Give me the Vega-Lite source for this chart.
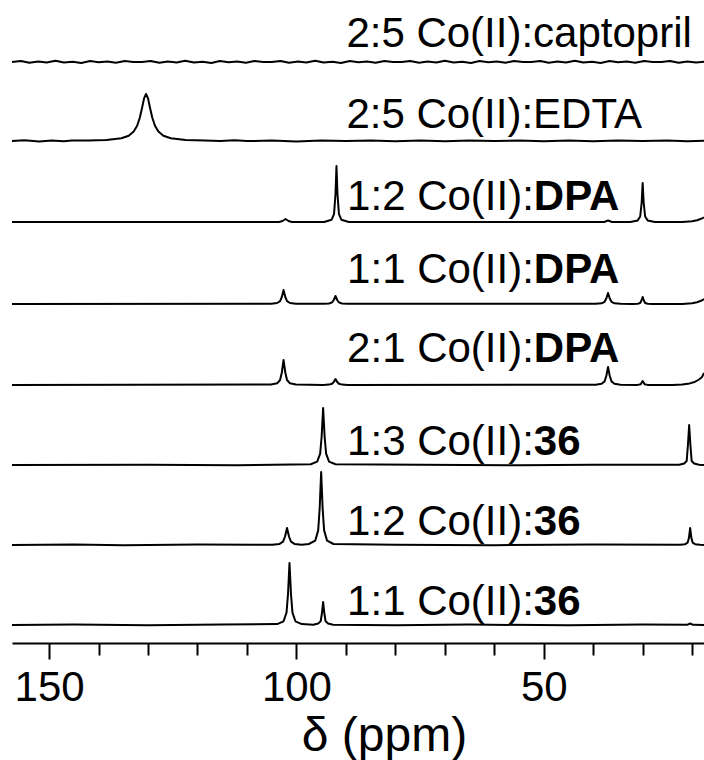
{
  "$schema": "https://vega.github.io/schema/vega-lite/v6.json",
  "width": 692,
  "height": 643,
  "autosize": {"type": "none"},
  "padding": {"left": 12, "top": 0, "right": 0, "bottom": 117},
  "background": "white",
  "config": {"view": {"stroke": null}},
  "datasets": {
    "spectra": [
      {"s": "cap", "ppm": 157.5, "i": 581}, {"s": "cap", "ppm": 155.7, "i": 582.1}, {"s": "cap", "ppm": 154, "i": 580.2}, {"s": "cap", "ppm": 152.2, "i": 581.5}, {"s": "cap", "ppm": 150.5, "i": 580.6}, {"s": "cap", "ppm": 148.7, "i": 582.3}, {"s": "cap", "ppm": 147, "i": 580.4}, {"s": "cap", "ppm": 145.2, "i": 581.2}, {"s": "cap", "ppm": 143.5, "i": 580}, {"s": "cap", "ppm": 141.7, "i": 581.9}, {"s": "cap", "ppm": 140, "i": 580.7}, {"s": "cap", "ppm": 138.2, "i": 581.6}, {"s": "cap", "ppm": 136.5, "i": 580.3}, {"s": "cap", "ppm": 134.7, "i": 582}, {"s": "cap", "ppm": 133, "i": 580.9},
      {"s": "cap", "ppm": 131.2, "i": 581}, {"s": "cap", "ppm": 129.5, "i": 582.1}, {"s": "cap", "ppm": 127.7, "i": 580.2}, {"s": "cap", "ppm": 126, "i": 581.5}, {"s": "cap", "ppm": 124.2, "i": 580.6}, {"s": "cap", "ppm": 122.5, "i": 582.3}, {"s": "cap", "ppm": 120.7, "i": 580.4}, {"s": "cap", "ppm": 119, "i": 581.2}, {"s": "cap", "ppm": 117.2, "i": 580}, {"s": "cap", "ppm": 115.5, "i": 581.9}, {"s": "cap", "ppm": 113.7, "i": 580.7}, {"s": "cap", "ppm": 112, "i": 581.6}, {"s": "cap", "ppm": 110.2, "i": 580.3}, {"s": "cap", "ppm": 108.5, "i": 582}, {"s": "cap", "ppm": 106.7, "i": 580.9},
      {"s": "cap", "ppm": 105, "i": 581}, {"s": "cap", "ppm": 103.2, "i": 582.1}, {"s": "cap", "ppm": 101.5, "i": 580.2}, {"s": "cap", "ppm": 99.7, "i": 581.5}, {"s": "cap", "ppm": 98, "i": 580.6}, {"s": "cap", "ppm": 96.2, "i": 582.3}, {"s": "cap", "ppm": 94.5, "i": 580.4}, {"s": "cap", "ppm": 92.7, "i": 581.2}, {"s": "cap", "ppm": 91, "i": 580}, {"s": "cap", "ppm": 89.2, "i": 581.9}, {"s": "cap", "ppm": 87.5, "i": 580.7}, {"s": "cap", "ppm": 85.7, "i": 581.6}, {"s": "cap", "ppm": 84, "i": 580.3}, {"s": "cap", "ppm": 82.2, "i": 582}, {"s": "cap", "ppm": 80.5, "i": 580.9},
      {"s": "cap", "ppm": 78.7, "i": 581}, {"s": "cap", "ppm": 77, "i": 582.1}, {"s": "cap", "ppm": 75.2, "i": 580.2}, {"s": "cap", "ppm": 73.5, "i": 581.5}, {"s": "cap", "ppm": 71.7, "i": 580.6}, {"s": "cap", "ppm": 70, "i": 582.3}, {"s": "cap", "ppm": 68.2, "i": 580.4}, {"s": "cap", "ppm": 66.5, "i": 581.2}, {"s": "cap", "ppm": 64.7, "i": 580}, {"s": "cap", "ppm": 63, "i": 581.9}, {"s": "cap", "ppm": 61.2, "i": 580.7}, {"s": "cap", "ppm": 59.5, "i": 581.6}, {"s": "cap", "ppm": 57.7, "i": 580.3}, {"s": "cap", "ppm": 56, "i": 582}, {"s": "cap", "ppm": 54.2, "i": 580.9},
      {"s": "cap", "ppm": 52.5, "i": 581}, {"s": "cap", "ppm": 50.7, "i": 582.1}, {"s": "cap", "ppm": 49, "i": 580.2}, {"s": "cap", "ppm": 47.2, "i": 581.5}, {"s": "cap", "ppm": 45.5, "i": 580.6}, {"s": "cap", "ppm": 43.7, "i": 582.3}, {"s": "cap", "ppm": 42, "i": 580.4}, {"s": "cap", "ppm": 40.2, "i": 581.2}, {"s": "cap", "ppm": 38.5, "i": 580}, {"s": "cap", "ppm": 36.7, "i": 581.9}, {"s": "cap", "ppm": 35, "i": 580.7}, {"s": "cap", "ppm": 33.2, "i": 581.6}, {"s": "cap", "ppm": 31.5, "i": 580.3}, {"s": "cap", "ppm": 29.7, "i": 582}, {"s": "cap", "ppm": 28, "i": 580.9},
      {"s": "cap", "ppm": 26.2, "i": 581}, {"s": "cap", "ppm": 24.5, "i": 582.1}, {"s": "cap", "ppm": 22.7, "i": 580.2}, {"s": "cap", "ppm": 21, "i": 581.5}, {"s": "cap", "ppm": 19.2, "i": 580.6}, {"s": "cap", "ppm": 17.6, "i": 581.3},

      {"s": "edta", "ppm": 157.5, "i": 502}, {"s": "edta", "ppm": 155, "i": 502.7}, {"s": "edta", "ppm": 152, "i": 501.6}, {"s": "edta", "ppm": 149.5, "i": 502.5}, {"s": "edta", "ppm": 147, "i": 501.8}, {"s": "edta", "ppm": 145.4, "i": 502.4}, {"s": "edta", "ppm": 142, "i": 502.4}, {"s": "edta", "ppm": 138.4, "i": 503.1}, {"s": "edta", "ppm": 135.4, "i": 504.8}, {"s": "edta", "ppm": 133.9, "i": 507.3}, {"s": "edta", "ppm": 132.9, "i": 511.4}, {"s": "edta", "ppm": 132.2, "i": 517.3}, {"s": "edta", "ppm": 131.65, "i": 525.5}, {"s": "edta", "ppm": 131.2, "i": 535.3}, {"s": "edta", "ppm": 130.8, "i": 544.6}, {"s": "edta", "ppm": 130.4, "i": 549}, {"s": "edta", "ppm": 130.0, "i": 544.6}, {"s": "edta", "ppm": 129.6, "i": 535.3}, {"s": "edta", "ppm": 129.15, "i": 525.5}, {"s": "edta", "ppm": 128.6, "i": 517.3}, {"s": "edta", "ppm": 127.9, "i": 511.4}, {"s": "edta", "ppm": 126.9, "i": 507.3}, {"s": "edta", "ppm": 125.4, "i": 504.8}, {"s": "edta", "ppm": 122.4, "i": 503.1}, {"s": "edta", "ppm": 118.5, "i": 502.6}, {"s": "edta", "ppm": 115.4, "i": 502.1}, {"s": "edta", "ppm": 112.5, "i": 502.7}, {"s": "edta", "ppm": 110, "i": 501.9}, {"s": "edta", "ppm": 105, "i": 502.5}, {"s": "edta", "ppm": 100, "i": 501.6}, {"s": "edta", "ppm": 95, "i": 502.5}, {"s": "edta", "ppm": 90, "i": 502}, {"s": "edta", "ppm": 85, "i": 502.6}, {"s": "edta", "ppm": 80, "i": 501.8}, {"s": "edta", "ppm": 75, "i": 502.4}, {"s": "edta", "ppm": 70, "i": 501.7}, {"s": "edta", "ppm": 65, "i": 502.5}, {"s": "edta", "ppm": 60, "i": 501.9}, {"s": "edta", "ppm": 55, "i": 502.6}, {"s": "edta", "ppm": 50, "i": 501.8}, {"s": "edta", "ppm": 45, "i": 502.4}, {"s": "edta", "ppm": 40, "i": 501.7}, {"s": "edta", "ppm": 35, "i": 502.5}, {"s": "edta", "ppm": 30, "i": 501.9}, {"s": "edta", "ppm": 25, "i": 502.5}, {"s": "edta", "ppm": 21, "i": 501.8}, {"s": "edta", "ppm": 17.6, "i": 502.3},

      {"s": "dpa12", "ppm": 157.5, "i": 421}, {"s": "dpa12", "ppm": 103.5, "i": 421}, {"s": "dpa12", "ppm": 102.8, "i": 422}, {"s": "dpa12", "ppm": 102.2, "i": 424}, {"s": "dpa12", "ppm": 101.6, "i": 422}, {"s": "dpa12", "ppm": 100.9, "i": 421}, {"s": "dpa12", "ppm": 94.4, "i": 421}, {"s": "dpa12", "ppm": 92.9, "i": 423.2}, {"s": "dpa12", "ppm": 92.4, "i": 428.8}, {"s": "dpa12", "ppm": 92.1, "i": 449}, {"s": "dpa12", "ppm": 91.9, "i": 477}, {"s": "dpa12", "ppm": 91.7, "i": 449}, {"s": "dpa12", "ppm": 91.4, "i": 428.8}, {"s": "dpa12", "ppm": 90.9, "i": 423.2}, {"s": "dpa12", "ppm": 89.4, "i": 421}, {"s": "dpa12", "ppm": 37.8, "i": 421}, {"s": "dpa12", "ppm": 37.0, "i": 422.5}, {"s": "dpa12", "ppm": 36.2, "i": 421}, {"s": "dpa12", "ppm": 32.5, "i": 421}, {"s": "dpa12", "ppm": 31.0, "i": 422.6}, {"s": "dpa12", "ppm": 30.5, "i": 426.5}, {"s": "dpa12", "ppm": 30.2, "i": 440.5}, {"s": "dpa12", "ppm": 30.0, "i": 460}, {"s": "dpa12", "ppm": 29.8, "i": 440.5}, {"s": "dpa12", "ppm": 29.5, "i": 426.5}, {"s": "dpa12", "ppm": 29.0, "i": 422.6}, {"s": "dpa12", "ppm": 27.5, "i": 421}, {"s": "dpa12", "ppm": 22, "i": 421}, {"s": "dpa12", "ppm": 20, "i": 421.8}, {"s": "dpa12", "ppm": 19, "i": 422.8}, {"s": "dpa12", "ppm": 18.2, "i": 424.2}, {"s": "dpa12", "ppm": 17.6, "i": 425.5},

      {"s": "dpa11", "ppm": 157.5, "i": 339}, {"s": "dpa11", "ppm": 105.1, "i": 339.3}, {"s": "dpa11", "ppm": 103.9, "i": 340}, {"s": "dpa11", "ppm": 103.3, "i": 341.8}, {"s": "dpa11", "ppm": 102.95, "i": 346}, {"s": "dpa11", "ppm": 102.6, "i": 353}, {"s": "dpa11", "ppm": 102.25, "i": 346}, {"s": "dpa11", "ppm": 101.9, "i": 341.8}, {"s": "dpa11", "ppm": 101.3, "i": 340}, {"s": "dpa11", "ppm": 100.1, "i": 339.3}, {"s": "dpa11", "ppm": 94.6, "i": 339.2}, {"s": "dpa11", "ppm": 93.4, "i": 339.5}, {"s": "dpa11", "ppm": 92.8, "i": 340.6}, {"s": "dpa11", "ppm": 92.45, "i": 343}, {"s": "dpa11", "ppm": 92.1, "i": 347}, {"s": "dpa11", "ppm": 91.75, "i": 343}, {"s": "dpa11", "ppm": 91.4, "i": 340.6}, {"s": "dpa11", "ppm": 90.8, "i": 339.5}, {"s": "dpa11", "ppm": 89.6, "i": 339.2}, {"s": "dpa11", "ppm": 39.5, "i": 339.2}, {"s": "dpa11", "ppm": 38.3, "i": 339.7}, {"s": "dpa11", "ppm": 37.7, "i": 341.2}, {"s": "dpa11", "ppm": 37.35, "i": 344.5}, {"s": "dpa11", "ppm": 37.0, "i": 350}, {"s": "dpa11", "ppm": 36.65, "i": 344.5}, {"s": "dpa11", "ppm": 36.3, "i": 341.2}, {"s": "dpa11", "ppm": 35.7, "i": 339.7}, {"s": "dpa11", "ppm": 34.5, "i": 339.2}, {"s": "dpa11", "ppm": 32, "i": 339}, {"s": "dpa11", "ppm": 31, "i": 339.3}, {"s": "dpa11", "ppm": 30.5, "i": 340}, {"s": "dpa11", "ppm": 30.25, "i": 342.5}, {"s": "dpa11", "ppm": 30.0, "i": 346}, {"s": "dpa11", "ppm": 29.75, "i": 342.5}, {"s": "dpa11", "ppm": 29.5, "i": 340}, {"s": "dpa11", "ppm": 29, "i": 339.3}, {"s": "dpa11", "ppm": 28, "i": 339}, {"s": "dpa11", "ppm": 22, "i": 339}, {"s": "dpa11", "ppm": 20, "i": 339.8}, {"s": "dpa11", "ppm": 19, "i": 340.8}, {"s": "dpa11", "ppm": 18.2, "i": 342.2}, {"s": "dpa11", "ppm": 17.6, "i": 344},

      {"s": "dpa21", "ppm": 157.5, "i": 258}, {"s": "dpa21", "ppm": 105.1, "i": 258.5}, {"s": "dpa21", "ppm": 103.9, "i": 259.7}, {"s": "dpa21", "ppm": 103.3, "i": 263}, {"s": "dpa21", "ppm": 102.95, "i": 270.5}, {"s": "dpa21", "ppm": 102.6, "i": 283}, {"s": "dpa21", "ppm": 102.25, "i": 270.5}, {"s": "dpa21", "ppm": 101.9, "i": 263}, {"s": "dpa21", "ppm": 101.3, "i": 259.7}, {"s": "dpa21", "ppm": 100.1, "i": 258.5}, {"s": "dpa21", "ppm": 94.6, "i": 258.1}, {"s": "dpa21", "ppm": 93.4, "i": 258.4}, {"s": "dpa21", "ppm": 92.8, "i": 259.2}, {"s": "dpa21", "ppm": 92.45, "i": 261}, {"s": "dpa21", "ppm": 92.1, "i": 264}, {"s": "dpa21", "ppm": 91.75, "i": 261}, {"s": "dpa21", "ppm": 91.4, "i": 259.2}, {"s": "dpa21", "ppm": 90.8, "i": 258.4}, {"s": "dpa21", "ppm": 89.6, "i": 258.1}, {"s": "dpa21", "ppm": 39.5, "i": 258.3}, {"s": "dpa21", "ppm": 38.3, "i": 259.2}, {"s": "dpa21", "ppm": 37.7, "i": 261.6}, {"s": "dpa21", "ppm": 37.35, "i": 267}, {"s": "dpa21", "ppm": 37.0, "i": 276}, {"s": "dpa21", "ppm": 36.65, "i": 267}, {"s": "dpa21", "ppm": 36.3, "i": 261.6}, {"s": "dpa21", "ppm": 35.7, "i": 259.2}, {"s": "dpa21", "ppm": 34.5, "i": 258.3}, {"s": "dpa21", "ppm": 31, "i": 258.1}, {"s": "dpa21", "ppm": 30.4, "i": 258.8}, {"s": "dpa21", "ppm": 30.0, "i": 262}, {"s": "dpa21", "ppm": 29.6, "i": 258.8}, {"s": "dpa21", "ppm": 29, "i": 258.1}, {"s": "dpa21", "ppm": 24, "i": 258}, {"s": "dpa21", "ppm": 22, "i": 258.6}, {"s": "dpa21", "ppm": 20.5, "i": 259.6}, {"s": "dpa21", "ppm": 19.5, "i": 261}, {"s": "dpa21", "ppm": 18.6, "i": 263.5}, {"s": "dpa21", "ppm": 18, "i": 266}, {"s": "dpa21", "ppm": 17.6, "i": 270},

      {"s": "l13", "ppm": 157.5, "i": 178}, {"s": "l13", "ppm": 130, "i": 178.3}, {"s": "l13", "ppm": 112, "i": 177.8}, {"s": "l13", "ppm": 97.1, "i": 178.8}, {"s": "l13", "ppm": 95.8, "i": 181.4}, {"s": "l13", "ppm": 95.2, "i": 189.4}, {"s": "l13", "ppm": 94.9, "i": 206.5}, {"s": "l13", "ppm": 94.6, "i": 235}, {"s": "l13", "ppm": 94.3, "i": 206.5}, {"s": "l13", "ppm": 94.0, "i": 189.4}, {"s": "l13", "ppm": 93.4, "i": 181.4}, {"s": "l13", "ppm": 92.1, "i": 178.8}, {"s": "l13", "ppm": 75, "i": 178.2}, {"s": "l13", "ppm": 55, "i": 177.8}, {"s": "l13", "ppm": 40, "i": 178.3}, {"s": "l13", "ppm": 22.6, "i": 178.3}, {"s": "l13", "ppm": 21.6, "i": 179.5}, {"s": "l13", "ppm": 21.1, "i": 182}, {"s": "l13", "ppm": 20.85, "i": 198}, {"s": "l13", "ppm": 20.6, "i": 218}, {"s": "l13", "ppm": 20.35, "i": 198}, {"s": "l13", "ppm": 20.1, "i": 182}, {"s": "l13", "ppm": 19.6, "i": 179.5}, {"s": "l13", "ppm": 18.6, "i": 178.3}, {"s": "l13", "ppm": 17.6, "i": 178},

      {"s": "l12", "ppm": 157.5, "i": 98}, {"s": "l12", "ppm": 145, "i": 98.6}, {"s": "l12", "ppm": 135, "i": 97.7}, {"s": "l12", "ppm": 120, "i": 98.4}, {"s": "l12", "ppm": 104.9, "i": 98.3}, {"s": "l12", "ppm": 103.4, "i": 99.1}, {"s": "l12", "ppm": 102.7, "i": 101.4}, {"s": "l12", "ppm": 102.3, "i": 106.5}, {"s": "l12", "ppm": 101.9, "i": 115}, {"s": "l12", "ppm": 101.5, "i": 106.5}, {"s": "l12", "ppm": 101.1, "i": 101.4}, {"s": "l12", "ppm": 100.4, "i": 99.1}, {"s": "l12", "ppm": 98.9, "i": 98.3}, {"s": "l12", "ppm": 97.5, "i": 99}, {"s": "l12", "ppm": 96.2, "i": 102.3}, {"s": "l12", "ppm": 95.6, "i": 112.6}, {"s": "l12", "ppm": 95.3, "i": 134.5}, {"s": "l12", "ppm": 95.0, "i": 171}, {"s": "l12", "ppm": 94.7, "i": 134.5}, {"s": "l12", "ppm": 94.4, "i": 112.6}, {"s": "l12", "ppm": 93.8, "i": 102.3}, {"s": "l12", "ppm": 92.5, "i": 99}, {"s": "l12", "ppm": 80, "i": 98.3}, {"s": "l12", "ppm": 60, "i": 97.8}, {"s": "l12", "ppm": 40, "i": 98.4}, {"s": "l12", "ppm": 22.4, "i": 98.2}, {"s": "l12", "ppm": 21.4, "i": 98.8}, {"s": "l12", "ppm": 20.9, "i": 100.4}, {"s": "l12", "ppm": 20.65, "i": 105}, {"s": "l12", "ppm": 20.4, "i": 115}, {"s": "l12", "ppm": 20.15, "i": 105}, {"s": "l12", "ppm": 19.9, "i": 100.4}, {"s": "l12", "ppm": 19.4, "i": 98.8}, {"s": "l12", "ppm": 18.4, "i": 98.2}, {"s": "l12", "ppm": 17.6, "i": 98},

      {"s": "l11", "ppm": 157.5, "i": 18}, {"s": "l11", "ppm": 145, "i": 18.6}, {"s": "l11", "ppm": 130, "i": 17.7}, {"s": "l11", "ppm": 115, "i": 18.5}, {"s": "l11", "ppm": 103.9, "i": 18.9}, {"s": "l11", "ppm": 102.6, "i": 21.7}, {"s": "l11", "ppm": 102.0, "i": 30.4}, {"s": "l11", "ppm": 101.7, "i": 49}, {"s": "l11", "ppm": 101.4, "i": 80}, {"s": "l11", "ppm": 101.1, "i": 49}, {"s": "l11", "ppm": 100.8, "i": 30.4}, {"s": "l11", "ppm": 100.2, "i": 21.7}, {"s": "l11", "ppm": 98.9, "i": 18.9}, {"s": "l11", "ppm": 96.6, "i": 18.3}, {"s": "l11", "ppm": 95.6, "i": 19.4}, {"s": "l11", "ppm": 95.1, "i": 21.7}, {"s": "l11", "ppm": 94.85, "i": 29.5}, {"s": "l11", "ppm": 94.6, "i": 41}, {"s": "l11", "ppm": 94.35, "i": 29.5}, {"s": "l11", "ppm": 94.1, "i": 21.7}, {"s": "l11", "ppm": 93.6, "i": 19.4}, {"s": "l11", "ppm": 92.6, "i": 18.3}, {"s": "l11", "ppm": 80, "i": 17.8}, {"s": "l11", "ppm": 65, "i": 18.4}, {"s": "l11", "ppm": 45, "i": 17.7}, {"s": "l11", "ppm": 30, "i": 18.4}, {"s": "l11", "ppm": 21, "i": 18.2}, {"s": "l11", "ppm": 20.4, "i": 19.5}, {"s": "l11", "ppm": 19.8, "i": 18.2}, {"s": "l11", "ppm": 17.6, "i": 18}
    ],
    "labels": [
      {"part": "plain", "x": 89.9, "y": 596, "t": "2:5 Co(II):captopril"},
      {"part": "plain", "x": 89.9, "y": 515, "t": "2:5 Co(II):EDTA"},
      {"part": "pre", "x": 52.0, "y": 433, "t": "1:2 Co(II):"},
      {"part": "bold", "x": 52.0, "y": 433, "t": "DPA"},
      {"part": "pre", "x": 52.0, "y": 360, "t": "1:1 Co(II):"},
      {"part": "bold", "x": 52.0, "y": 360, "t": "DPA"},
      {"part": "pre", "x": 52.0, "y": 281, "t": "2:1 Co(II):"},
      {"part": "bold", "x": 52.0, "y": 281, "t": "DPA"},
      {"part": "pre", "x": 52.0, "y": 188, "t": "1:3 Co(II):"},
      {"part": "bold", "x": 52.0, "y": 188, "t": "36"},
      {"part": "pre", "x": 52.0, "y": 108, "t": "1:2 Co(II):"},
      {"part": "bold", "x": 52.0, "y": 108, "t": "36"},
      {"part": "pre", "x": 52.0, "y": 28, "t": "1:1 Co(II):"},
      {"part": "bold", "x": 52.0, "y": 28, "t": "36"}
    ]
  },
  "encoding": {
    "x": {"type": "quantitative", "scale": {"domain": [157.5, 17.6], "nice": false, "zero": false}},
    "y": {"type": "quantitative", "scale": {"domain": [0, 643], "nice": false, "zero": false}, "axis": null}
  },
  "layer": [
    {
      "data": {"name": "spectra"},
      "mark": {"type": "line", "color": "black", "strokeWidth": 2, "strokeJoin": "round"},
      "encoding": {
        "x": {"field": "ppm", "type": "quantitative", "axis": {
          "values": [150, 140, 130, 120, 110, 100, 90, 80, 70, 60, 50, 40, 30, 20],
          "labelExpr": "datum.value % 50 === 0 ? datum.label : ''",
          "tickSize": {"condition": {"test": "datum.value % 50 === 0", "value": 16}, "value": 12},
          "tickWidth": 2, "tickColor": "black",
          "domainColor": "black", "domainWidth": 2,
          "labelFont": "Liberation Sans", "labelFontSize": 42, "labelColor": "black",
          "labelPadding": 8, "labelFlush": false, "labelOverlap": false,
          "grid": false,
          "title": "δ (ppm)", "titleFont": "Liberation Sans", "titleFontSize": 48,
          "titleFontWeight": "normal", "titleColor": "black", "titlePadding": 4,
          "titleX": 372, "titleAlign": "center"
        }},
        "y": {"field": "i", "type": "quantitative"},
        "detail": {"field": "s"}
      }
    },
    {
      "data": {"name": "labels"},
      "transform": [{"filter": "datum.part === 'plain'"}],
      "mark": {"type": "text", "font": "Liberation Sans", "fontSize": 42, "align": "left", "baseline": "alphabetic", "color": "black"},
      "encoding": {"x": {"field": "x", "type": "quantitative"}, "y": {"field": "y", "type": "quantitative"}, "text": {"field": "t"}}
    },
    {
      "data": {"name": "labels"},
      "transform": [{"filter": "datum.part === 'pre'"}],
      "mark": {"type": "text", "font": "Liberation Sans", "fontSize": 42, "align": "right", "baseline": "alphabetic", "color": "black"},
      "encoding": {"x": {"field": "x", "type": "quantitative"}, "y": {"field": "y", "type": "quantitative"}, "text": {"field": "t"}}
    },
    {
      "data": {"name": "labels"},
      "transform": [{"filter": "datum.part === 'bold'"}],
      "mark": {"type": "text", "font": "Liberation Sans", "fontSize": 42, "fontWeight": "bold", "align": "left", "baseline": "alphabetic", "color": "black"},
      "encoding": {"x": {"field": "x", "type": "quantitative"}, "y": {"field": "y", "type": "quantitative"}, "text": {"field": "t"}}
    }
  ]
}
